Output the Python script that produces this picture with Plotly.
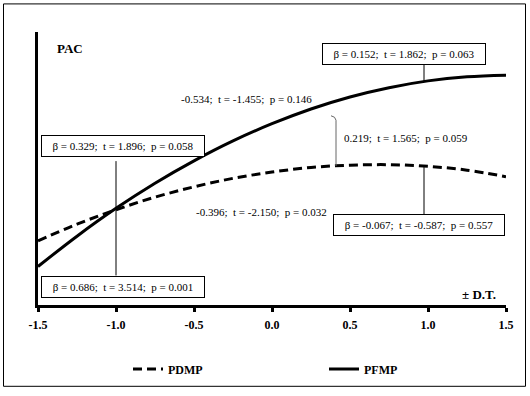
import plotly.graph_objects as go

# ---- data ----
x_vals = [-1.5, -1.25, -1.0, -0.75, -0.5, -0.25, 0.0, 0.25, 0.5, 0.75, 1.0, 1.25, 1.5]
pfmp = [1.41, 2.52, 3.54, 4.46, 5.28, 6.01, 6.64, 7.18, 7.62, 7.96, 8.21, 8.36, 8.42]
pdmp = [2.35, 2.96, 3.49, 3.95, 4.33, 4.64, 4.87, 5.04, 5.12, 5.14, 5.08, 4.94, 4.70]
tick_vals = [-1.5, -1.0, -0.5, 0.0, 0.5, 1.0, 1.5]
tick_text = ["-1.5", "-1.0", "-0.5", "0.0", "0.5", "1.0", "1.5"]

S = "\u00a0"
box_texts = [
    f"β = 0.329;{S} t = 1.896;{S} p = 0.058",
    f"β = 0.686;{S} t = 3.514;{S} p = 0.001",
    f"β = 0.152;{S} t = 1.862;{S} p = 0.063",
    f"β = -0.067;{S} t = -0.587;{S} p = 0.557",
]
free_texts = [
    f"-0.534;{S} t = -1.455;{S} p = 0.146",
    f"0.219;{S} t = 1.565;{S} p = 0.059",
    f"-0.396;{S} t = -2.150;{S} p = 0.032",
]

# ---- layout geometry (pixels) ----
W, H = 530, 396
ML, MR, MT, MB = 38, 24, 32, 87
PW, PH = W - ML - MR, H - MT - MB
X0, X1 = -1.5, 1.5
Y0, Y1 = 0, 10

def fx(px):
    return X0 + (px - ML) / PW * (X1 - X0)

def fy(py):
    return Y0 + (H - MB - py) / PH * (Y1 - Y0)

def qx(px):
    return (px - ML) / PW

def qy(py):
    return (H - MB - py) / PH

FONT = "Liberation Serif, Times New Roman, serif"

fig = go.Figure()
fig.add_trace(go.Scatter(
    x=x_vals, y=pdmp, name="PDMP", mode="lines", legend="legend",
    line=dict(color="black", width=3, dash="9px,5px", shape="spline"),
))
fig.add_trace(go.Scatter(
    x=x_vals, y=pfmp, name="PFMP", mode="lines", legend="legend2",
    line=dict(color="black", width=3, shape="spline"),
))

shapes = []
# outer border
shapes.append(dict(type="rect", xref="paper", yref="paper",
                   x0=qx(3.5), x1=qx(525.5), y0=qy(391.5), y1=qy(3.5),
                   line=dict(color="black", width=1), layer="below"))
# leader lines
for (px, py0, py1) in [(116, 163, 279), (424, 65, 82), (424, 169, 217)]:
    shapes.append(dict(type="line", xref="x", yref="y",
                       x0=fx(px), x1=fx(px), y0=fy(py0), y1=fy(py1),
                       line=dict(color="black", width=1)))
# bracket
path = (f"M {fx(331)},{fy(117)} L {fx(334.5)},{fy(118.5)} "
        f"L {fx(336)},{fy(121.5)} L {fx(336)},{fy(168)}")
shapes.append(dict(type="path", xref="x", yref="y", path=path,
                   line=dict(color="#666666", width=1)))

annotations = []
box_pos = [(123, 148), (123, 290.5), (403.5, 54), (418.5, 228)]
box_w = [156, 156, 156, 164]
for t, (px, py), w in zip(box_texts, box_pos, box_w):
    annotations.append(dict(
        text=t, x=fx(px), y=fy(py), xref="x", yref="y", showarrow=False,
        xanchor="center", yanchor="middle", width=w, height=14,
        bgcolor="white", bordercolor="black", borderwidth=1, borderpad=3,
        font=dict(family=FONT, size=11, color="black")))
free_pos = [(246, 100), (406, 140), (261, 215)]
for t, (px, py) in zip(free_texts, free_pos):
    annotations.append(dict(
        text=t, x=fx(px), y=fy(py), xref="x", yref="y", showarrow=False,
        xanchor="center", yanchor="middle",
        font=dict(family=FONT, size=11, color="black")))
annotations.append(dict(
    text="PAC", x=fx(55), y=fy(48.5), xref="x", yref="y", showarrow=False,
    xanchor="left", yanchor="middle",
    font=dict(family=FONT, size=13, color="black", weight="bold")))
annotations.append(dict(
    text="± D.T.", x=fx(498), y=fy(298), xref="x", yref="y", showarrow=False,
    xanchor="right", yanchor="middle",
    font=dict(family=FONT, size=13, color="black", weight="bold")))

legend_font = dict(family=FONT, size=12, color="black", weight="bold")
fig.update_layout(
    width=W, height=H,
    margin=dict(l=ML, r=MR, t=MT, b=MB, pad=0),
    paper_bgcolor="white", plot_bgcolor="white",
    showlegend=True,
    legend=dict(orientation="h", x=qx(128), y=qy(374), xanchor="left",
                yanchor="middle", font=legend_font,
                bgcolor="rgba(0,0,0,0)", borderwidth=0),
    legend2=dict(orientation="h", x=qx(324), y=qy(374), xanchor="left",
                 yanchor="middle", font=legend_font,
                 bgcolor="rgba(0,0,0,0)", borderwidth=0),
    shapes=shapes, annotations=annotations,
    xaxis=dict(range=[X0, X1], showgrid=False, zeroline=False,
               showline=True, linecolor="black", linewidth=3,
               ticks="outside", ticklen=4, tickwidth=3, tickcolor="black",
               ticklabelstandoff=3,
               tickvals=tick_vals, ticktext=tick_text,
               tickfont=dict(family=FONT, size=12, color="black", weight="bold"),
               fixedrange=True),
    yaxis=dict(range=[Y0, Y1], showgrid=False, zeroline=False,
               showline=True, linecolor="black", linewidth=3,
               showticklabels=False, ticks="", fixedrange=True),
)

fig.write_html(
    "out.html",
    config={"displayModeBar": False},
    post_script="document.body.style.margin='0';document.body.style.overflow='hidden';",
)
